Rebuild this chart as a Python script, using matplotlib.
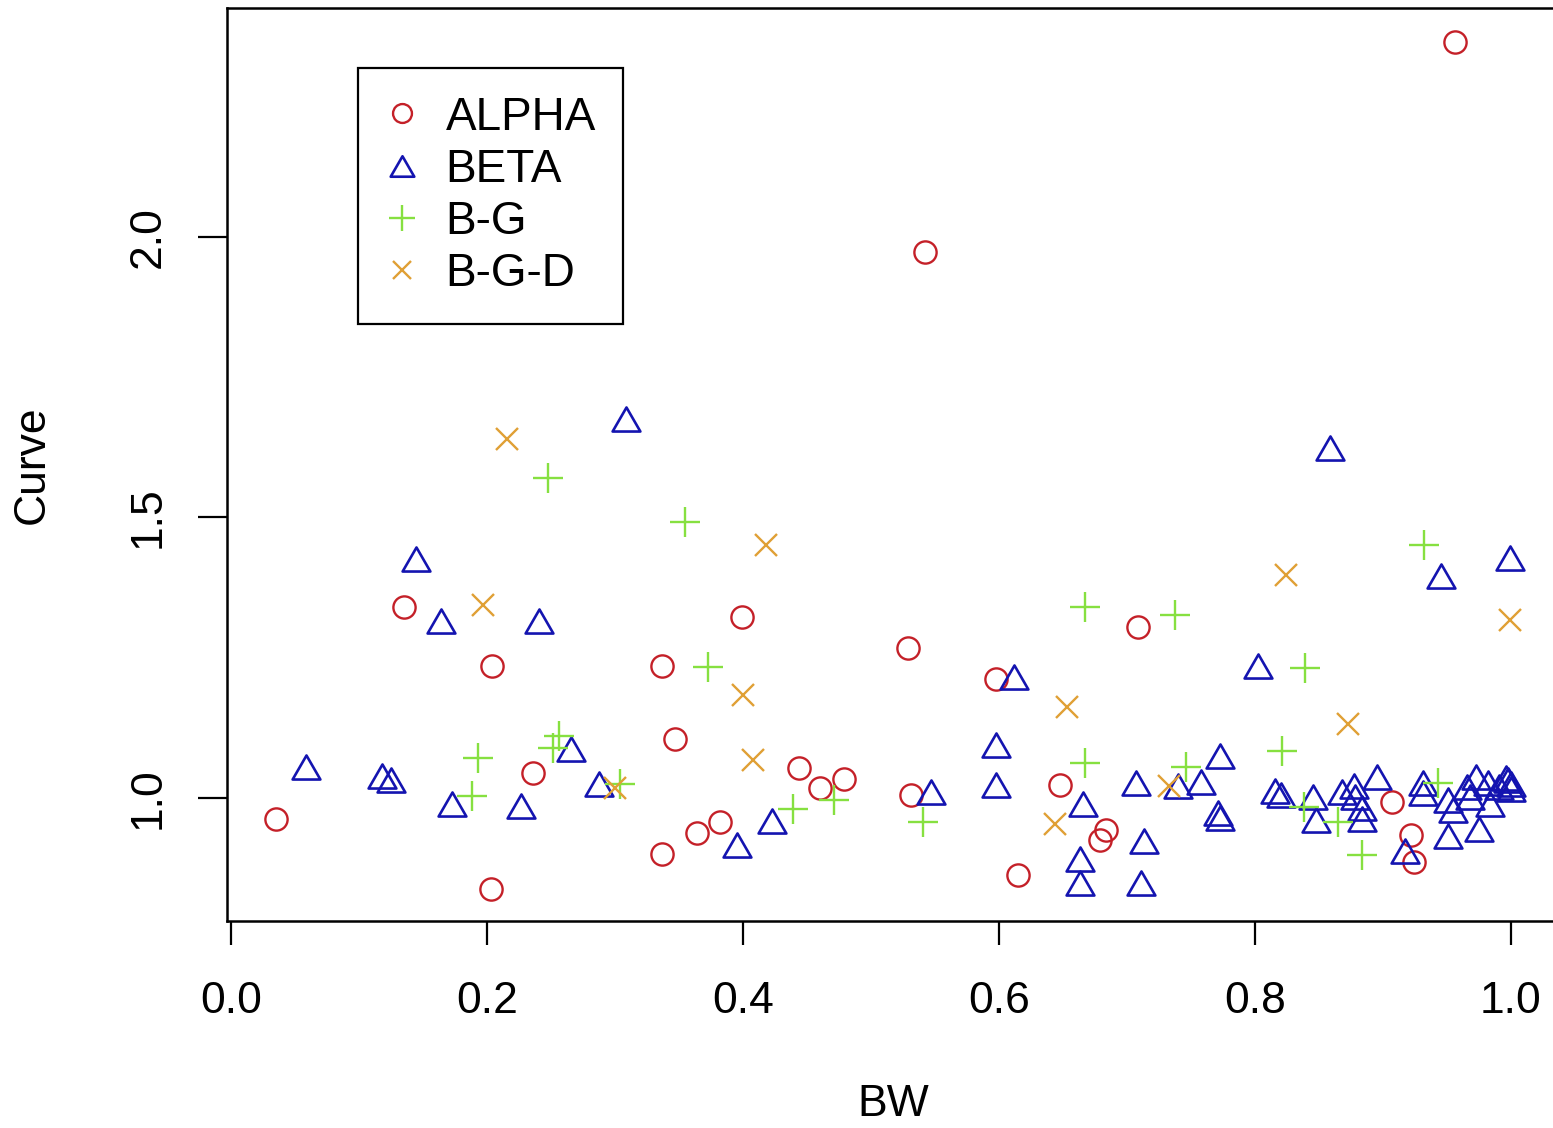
import matplotlib
matplotlib.use('Agg')
import matplotlib.pyplot as plt
import numpy as np
from matplotlib.path import Path

# values
alpha_x = [0.035, 0.135, 0.204, 0.203, 0.236, 0.337, 0.337, 0.347, 0.364, 0.382,
           0.399, 0.444, 0.460, 0.479, 0.529, 0.531, 0.542, 0.598, 0.615, 0.648,
           0.679, 0.684, 0.709, 0.907, 0.922, 0.924, 0.956]
alpha_y = [0.963, 1.340, 1.235, 0.838, 1.045, 1.235, 0.900, 1.105, 0.938, 0.957,
           1.323, 1.053, 1.018, 1.034, 1.267, 1.005, 1.973, 1.212, 0.863, 1.023,
           0.925, 0.943, 1.305, 0.993, 0.934, 0.886, 2.348]

beta_x = [0.059, 0.118, 0.125, 0.145, 0.164, 0.173, 0.227, 0.241, 0.266, 0.2875,
          0.309, 0.395, 0.423, 0.547, 0.598, 0.598, 0.612, 0.663, 0.663, 0.666,
          0.707, 0.711, 0.713, 0.740, 0.758, 0.771, 0.773, 0.773, 0.802, 0.816,
          0.820, 0.845, 0.848, 0.859, 0.868, 0.877, 0.878, 0.884, 0.884, 0.895,
          0.917, 0.931, 0.931, 0.945, 0.951, 0.955, 0.951, 0.966, 0.973, 0.968,
          0.975, 0.982, 0.984, 0.991, 0.996, 0.998, 1.000, 1.000, 0.999]
beta_y = [1.055, 1.039, 1.032, 1.426, 1.316, 0.989, 0.986, 1.316, 1.087, 1.025,
          1.676, 0.916, 0.959, 1.011, 1.094, 1.023, 1.216, 0.848, 0.891, 0.989,
          1.027, 0.848, 0.923, 1.021, 1.029, 0.973, 0.964, 1.075, 1.235, 1.012,
          1.005, 1.002, 0.961, 1.624, 1.011, 1.021, 1.002, 0.982, 0.963, 1.037,
          0.906, 1.027, 1.009, 1.396, 0.996, 0.979, 0.932, 1.020, 1.037, 1.002,
          0.945, 1.027, 0.989, 1.020, 1.036, 1.032, 1.025, 1.016, 1.428]

bg_x = [0.188, 0.193, 0.248, 0.256, 0.252, 0.304, 0.355, 0.373, 0.439, 0.471,
        0.541, 0.667, 0.667, 0.7375, 0.746, 0.821, 0.839, 0.838, 0.865, 0.884,
        0.932, 0.943]
bg_y = [1.004, 1.071, 1.570, 1.111, 1.089, 1.025, 1.492, 1.234, 0.980, 0.996,
        0.957, 1.340, 1.062, 1.326, 1.055, 1.084, 1.232, 0.984, 0.957, 0.898,
        1.451, 1.027]

bgd_x = [0.197, 0.216, 0.300, 0.400, 0.418, 0.408, 0.644, 0.653, 0.733, 0.824,
         0.873, 0.999]
bgd_y = [1.344, 1.640, 1.018, 1.184, 1.451, 1.068, 0.954, 1.162, 1.021, 1.397,
         1.132, 1.317]

labels = ['ALPHA', 'BETA', 'B-G', 'B-G-D']
x_ticks = [0.0, 0.2, 0.4, 0.6, 0.8, 1.0]
y_ticks = [1.0, 1.5, 2.0]

plt.rcParams['font.family'] = ['Liberation Sans', 'DejaVu Sans']
fs = 33

# R-style flat triangle
tri = Path([(-1, -0.866), (1, -0.866), (0, 0.866), (-1, -0.866)],
           [Path.MOVETO, Path.LINETO, Path.LINETO, Path.CLOSEPOLY])

fig = plt.figure(figsize=(15.53, 11.28), dpi=100)
ax = fig.add_axes([0.1462, 0.1835, 0.8583, 0.8094])

ax.plot(alpha_x, alpha_y, ls='none', marker='o', ms=16, mfc='none',
        mec='#c42028', mew=1.7, label=labels[0])
ax.plot(beta_x, beta_y, ls='none', marker=tri, ms=20, mfc='none',
        mec='#1414b0', mew=1.9, label=labels[1])
ax.plot(bg_x, bg_y, ls='none', marker='+', ms=22, mec='#86e040',
        mew=1.7, label=labels[2])
ax.plot(bgd_x, bgd_y, ls='none', marker='x', ms=16, mec='#e0a035',
        mew=1.7, label=labels[3])

ax.set_xlim(-0.003, 1.0383)
ax.set_ylim(0.7807, 2.4082)
ax.set_xticks(x_ticks)
ax.set_xticklabels(['%.1f' % v for v in x_ticks])
ax.set_yticks(y_ticks)
ax.set_yticklabels(['%.1f' % v for v in y_ticks], rotation=90, va='center')

for s in ax.spines.values():
    s.set_linewidth(1.8)
ax.tick_params(axis='x', length=17, width=1.6, pad=26, labelsize=32)
ax.tick_params(axis='y', length=21, width=1.6, pad=21, labelsize=32)

ax.set_xlabel('BW', fontsize=32)
ax.set_ylabel('Curve', fontsize=32)
ax.xaxis.set_label_coords(0.5, -0.2015)
ax.xaxis.label.set_va('center')
ax.yaxis.set_label_coords(-0.1463, 0.5)
ax.yaxis.label.set_va('center')

leg = ax.legend(loc='upper left', bbox_to_anchor=(358 / 1553, 1 - 68 / 1128),
                bbox_transform=fig.transFigure, borderaxespad=0,
                fontsize=fs, frameon=True, fancybox=False, framealpha=1,
                edgecolor='black', borderpad=0.6, labelspacing=0.18,
                handlelength=0.71, handletextpad=0.6, markerscale=0.85)
leg.get_frame().set_linewidth(1.6)

fig.savefig('out.png', dpi=100)
